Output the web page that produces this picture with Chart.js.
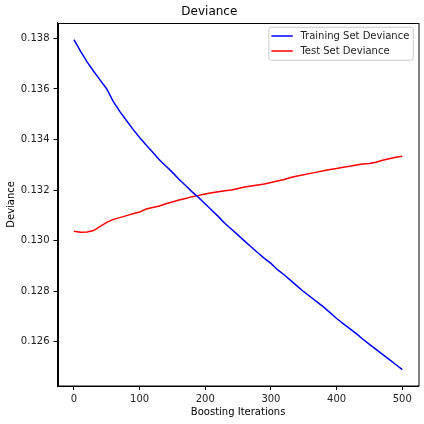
<!DOCTYPE html>
<html>
<head>
<meta charset="utf-8">
<script src="https://cdn.jsdelivr.net/npm/chart.js@4/dist/chart.umd.min.js"></script>
<style>
html,body{margin:0;padding:0;background:#fff;}
#wrap{width:424px;height:424px;}
</style>
</head>
<body>
<div id="wrap"><canvas id="c" width="424" height="424"></canvas></div>
<script>
const iterations = [0,10,20,30,40,50,60,70,80,90,100,110,120,130,140,150,160,170,180,190,200,210,220,230,240,250,260,270,280,290,300,310,320,330,340,350,360,370,380,390,400,410,420,430,440,450,460,470,480,490,500];
const trainDeviance = [0.13795,0.13750,0.13707,0.13670,0.13635,0.13600,0.13550,0.13510,0.13475,0.13440,0.13408,0.13378,0.13350,0.13320,0.13295,0.13270,0.13243,0.13218,0.13193,0.13170,0.13145,0.13120,0.13095,0.13068,0.13045,0.13022,0.12998,0.12975,0.12952,0.12930,0.12910,0.12885,0.12865,0.12843,0.12820,0.12798,0.12778,0.12758,0.12738,0.12715,0.12692,0.12672,0.12652,0.12632,0.12610,0.12590,0.12570,0.12550,0.12530,0.12510,0.12490];
const testDeviance = [0.13037,0.13033,0.13034,0.13040,0.13056,0.13072,0.13084,0.13091,0.13099,0.13106,0.13113,0.13125,0.13131,0.13137,0.13146,0.13153,0.13161,0.13167,0.13174,0.13179,0.13184,0.13189,0.13193,0.13197,0.13200,0.13206,0.13212,0.13216,0.13220,0.13224,0.13230,0.13236,0.13242,0.13250,0.13256,0.13261,0.13266,0.13271,0.13276,0.13281,0.13285,0.13290,0.13294,0.13299,0.13303,0.13305,0.13310,0.13318,0.13324,0.13330,0.13334];
const xTicks = [0,100,200,300,400,500];
const yTicks = [0.126,0.128,0.130,0.132,0.134,0.136,0.138];
const seriesLabels = ['Training Set Deviance','Test Set Deviance'];

const FONT = 'DejaVu Sans';

const framePlugin = {
  id: 'frame',
  afterDraw(chart) {
    const {ctx, chartArea: a} = chart;
    ctx.save();
    ctx.strokeStyle = '#000';
    ctx.lineWidth = 1;
    ctx.strokeRect(Math.round(a.left)+0.5, Math.round(a.top)+0.5, Math.round(a.right-a.left)-0.5, Math.round(a.bottom-a.top)-0.5);
    // legend
    ctx.font = '10px "' + FONT + '"';
    const tw = Math.max(...chart.data.datasets.map(d => ctx.measureText(d.label).width));
    const right = a.right - 5.4;
    const top = a.top + 4.6;
    const w = 31.6 + tw + 4;
    const left = right - w;
    const h = 33;
    const r = 2.5;
    ctx.beginPath();
    ctx.moveTo(left + r, top);
    ctx.lineTo(right - r, top);
    ctx.quadraticCurveTo(right, top, right, top + r);
    ctx.lineTo(right, top + h - r);
    ctx.quadraticCurveTo(right, top + h, right - r, top + h);
    ctx.lineTo(left + r, top + h);
    ctx.quadraticCurveTo(left, top + h, left, top + h - r);
    ctx.lineTo(left, top + r);
    ctx.quadraticCurveTo(left, top, left + r, top);
    ctx.closePath();
    ctx.fillStyle = 'rgba(255,255,255,0.8)';
    ctx.fill();
    ctx.strokeStyle = '#cccccc';
    ctx.lineWidth = 1;
    ctx.stroke();
    chart.data.datasets.forEach((d, i) => {
      const y = top + 8.7 + i * 15;
      ctx.strokeStyle = d.borderColor;
      ctx.lineWidth = 1.5;
      ctx.beginPath();
      ctx.moveTo(left + 2.6, y);
      ctx.lineTo(left + 24, y);
      ctx.stroke();
      ctx.fillStyle = '#222';
      ctx.textBaseline = 'middle';
      ctx.textAlign = 'left';
      ctx.fillText(d.label, left + 31.6, y);
    });
    ctx.restore();
  }
};

new Chart(document.getElementById('c'), {
  type: 'line',
  data: {
    datasets: [
      { label: seriesLabels[0], data: iterations.map((x, i) => ({x, y: trainDeviance[i]})), borderColor: '#0000ff', borderWidth: 1.5, pointRadius: 0, fill: false, tension: 0 },
      { label: seriesLabels[1], data: iterations.map((x, i) => ({x, y: testDeviance[i]})), borderColor: '#ff0000', borderWidth: 1.5, pointRadius: 0, fill: false, tension: 0 }
    ]
  },
  options: {
    responsive: false,
    animation: false,
    layout: { padding: { left: 0, right: 5.3, top: 0, bottom: 0 } },
    plugins: {
      legend: { display: false },
      tooltip: { enabled: false },
      title: { display: true, text: 'Deviance', color: '#000', font: { family: FONT, size: 12, weight: 'normal' }, padding: { top: 5, bottom: 3.3 } }
    },
    scales: {
      x: {
        type: 'linear', min: -25, max: 525,
        afterBuildTicks: s => { s.ticks = xTicks.map(v => ({value: v})); },
        afterFit: s => { s.height = 38; },
        ticks: { color: '#222', font: { family: FONT, size: 10 }, padding: 3, maxRotation: 0, autoSkip: false },
        grid: { display: true, drawOnChartArea: false, drawTicks: true, tickLength: 4, color: '#000' },
        border: { display: true, color: '#000', width: 1 },
        title: { display: true, text: 'Boosting Iterations', color: '#000', font: { family: FONT, size: 10 }, padding: { top: 0, bottom: 6 } }
      },
      y: {
        type: 'linear', min: 0.12425, max: 0.13862,
        afterBuildTicks: s => { s.ticks = yTicks.map(v => ({value: v})); },
        afterFit: s => { s.width = 57.5; },
        ticks: { color: '#222', font: { family: FONT, size: 10 }, padding: 4, autoSkip: false, callback: v => v.toFixed(3) },
        grid: { display: true, drawOnChartArea: false, drawTicks: true, tickLength: 4, color: '#000' },
        border: { display: true, color: '#000', width: 1 },
        title: { display: true, text: 'Deviance', color: '#000', font: { family: FONT, size: 10 }, padding: { top: 5, bottom: 0 } }
      }
    }
  },
  plugins: [framePlugin]
});
</script>
</body>
</html>
